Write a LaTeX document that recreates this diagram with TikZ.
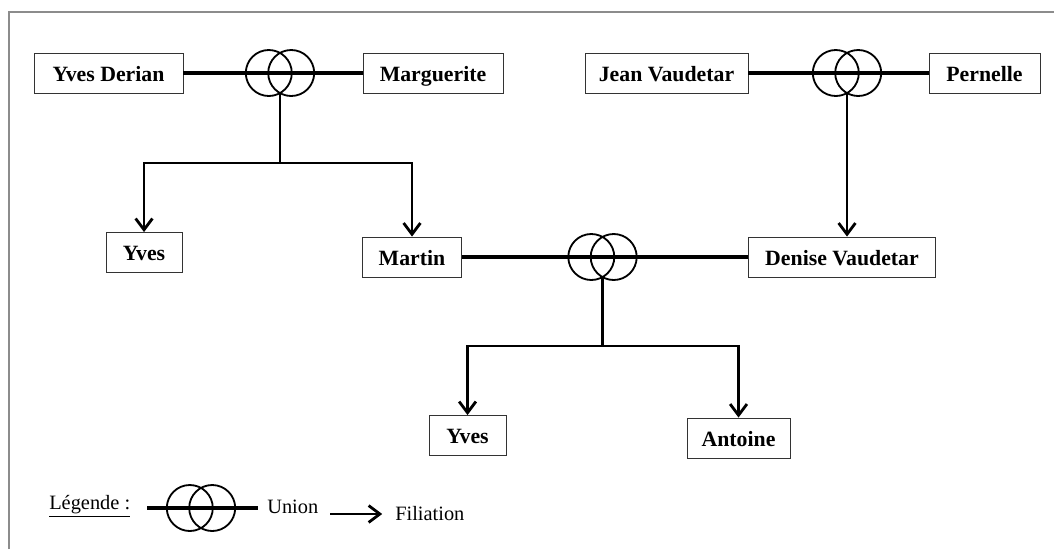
\documentclass[tikz,border=0pt]{standalone}
\usepackage{fontspec}
\setmainfont{Liberation Serif}
\usepackage{tikz}
\usetikzlibrary{arrows.meta,positioning,calc}
\tikzset {
    person/.style={draw=black!80, line width=0.6pt, minimum height=10mm,
        inner sep=0pt, text height=13pt, text depth=1.5pt,
        font=\fontsize{15.5}{18}\selectfont\bfseries},
    couple/.style={line width=2.4pt},
    ring/.style={line width=1.3pt},
    branch/.style={line width=1.8pt},
    desc/.style={line width=1.8pt,
        -{Straight Barb[length=2.8mm, width=4.2mm, line width=2pt]}},
    legtext/.style={inner sep=0pt, font=\fontsize{14.5}{17}\selectfont},
    frame/.style={draw=black!45, line width=1.4pt},
}
\begin{document}
\begin{tikzpicture}[x=0.25mm, y=-0.25mm]
    \useasboundingbox (0,0) rectangle (1054,549);
    \draw[frame] (9,549) -- (9,12) -- (1054,12);

    \node[person, minimum width=37.25mm] at (108.5,73) (yd) {Yves Derian};
    \node[person, minimum width=35mm]    at (433,73)   (mg) {Marguerite};
    \node[person, minimum width=40.75mm] at (666.5,73) (jv) {Jean Vaudetar};
    \node[person, minimum width=27.75mm] at (984.5,73) (pn) {Pernelle};
    \node[person, minimum width=19mm]    at (144,252.5) (y1) {Yves};
    \node[person, minimum width=24.75mm] at (412,257)   (mt) {Martin};
    \node[person, minimum width=46.75mm] at (842,257)   (dv) {Denise Vaudetar};
    \node[person, minimum width=19.25mm] at (467.5,435.5) (y2) {Yves};
    \node[person, minimum width=25.75mm] at (738.5,438) (an) {Antoine};

    \coordinate (u1) at (280,73);
    \coordinate (u2) at (847,73);
    \coordinate (u3) at (602.5,257);
    \coordinate (b1) at (280,163);
    \coordinate (b3) at (602.5,346);

    \draw[couple] (yd.east) -- (mg.west);
    \draw[couple] (jv.east) -- (pn.west);
    \draw[couple] (mt.east) -- (dv.west);

    \foreach \u in {u1,u2,u3} {
        \draw[ring] ([xshift=-2.8mm]\u) circle (5.75mm)
                    ([xshift=2.8mm]\u) circle (5.75mm);
    }

    \draw[branch] ([yshift=-5mm]u1) -- (b1);
    \draw[desc] (b1) -| (y1.north);
    \draw[desc] (b1) -| (mt.north);
    \draw[desc] ([yshift=-5mm]u2) -- (u2 |- dv.north);
    \draw[branch] ([yshift=-5mm]u3) -- (b3);
    \draw[desc] (b3) -| (y2.north);
    \draw[desc] (b3) -| (an.north);

    % legende
    \node[legtext, anchor=west] at (49,506) (leg) {\underline{Légende :}};
    \coordinate (la) at (147,508);
    \coordinate (lu) at (201,508);
    \coordinate (lb) at (258,508);
    \draw[couple] (la) -- (lb);
    \draw[ring] ([xshift=-2.8mm]lu) circle (5.75mm)
                ([xshift=2.8mm]lu) circle (5.75mm);
    \node[legtext, anchor=west] at (267,507) (un) {Union};
    \node[legtext, anchor=west] at (395,514) (fi) {Filiation};
    \coordinate (fa) at (330,514);
    \draw[desc] (fa) -- ([xshift=-3.2mm]fi.west);
\end{tikzpicture}
\end{document}
